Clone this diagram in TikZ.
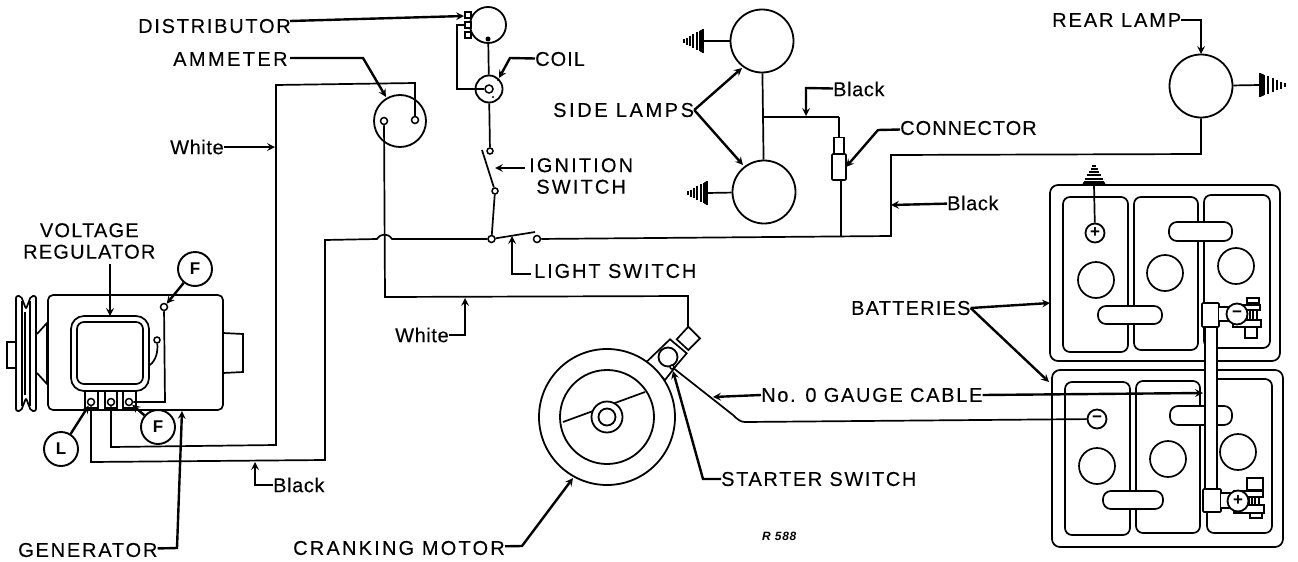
\documentclass[tikz,border=0pt]{standalone}
\usepackage{fontspec}
\usepackage{tikz}
\setmainfont{Liberation Sans}
\usetikzlibrary{arrows}

\tikzset{
    wire/.style={line width=1.7pt},
    ptr/.style={line width=2.4pt, ->, >=stealth},
    caplabel/.style={anchor=west, inner sep=0pt, align=center, font=\fontsize{20}{21.5}\selectfont\addfontfeature{LetterSpace=#1,FakeBold=0.2}},
    wordlabel/.style={anchor=west, inner sep=0pt, font=\fontsize{20}{22}\selectfont\addfontfeature{LetterSpace=3,FakeBold=0.2}},
    term/.style={circle, draw, fill=white, line width=1.5pt, inner sep=0pt, minimum size=7pt},
    lamp/.style={circle, draw, fill=white, line width=1.8pt, inner sep=0pt},
    tag/.style={circle, draw, fill=white, line width=1.9pt, inner sep=0pt, minimum size=34pt, font=\bfseries\fontsize{17}{17}\selectfont},
    post/.style={circle, draw, fill=white, line width=1.8pt, inner sep=0pt, minimum size=19pt, font=\bfseries\fontsize{17}{17}\selectfont},
    part/.style={draw, fill=white, line width=1.7pt},
    gndsym/.pic={
        \foreach \i in {0,...,6}
            \draw[line width=2pt] ({-\i*#1},{-12+\i*1.7}) -- ({-\i*#1},{12-\i*1.7});
        \fill ({-#1},-10.3) -- (0,-12) -- (0,12) -- ({-#1},10.3) -- cycle;
    }
}

\begin{document}
\begin{tikzpicture}[x=1pt,y=-1pt]
    \useasboundingbox (0,0) rectangle (1298,562);

    % generator
    \draw[part] (7,342) rectangle (17,368);
    \draw[part, rounded corners=2pt] (16,296) -- (21,296) -- (26,309) -- (31,296) -- (36,296) -- (36,411) -- (31,411) -- (26,398) -- (21,411) -- (16,411) -- cycle;
    \draw[line width=2.4pt] (22,301) -- (22,406);
    \draw[line width=1.2pt] (25,312) -- (25,395);
    \draw[line width=1.6pt] (30,301) -- (30,406);
    \draw[part] (37,334) -- (47,323) -- (47,384) -- (37,373);
    \draw[part] (223,333) -- (243,334) -- (243,372) -- (223,373) -- cycle;
    \draw[part, rounded corners=5pt] (48,295) rectangle (223,410);
    \draw[part, rounded corners=13pt] (71,316) rectangle (149,391);
    \draw[part, rounded corners=7pt] (77,322) rectangle (143,384);
    \foreach \x/\y in {85/98,105/117,123/136}
        \draw[part] (\x,391) rectangle (\y,408);

    \node[term] (gL) at (91,402) {};
    \node[term] (gA) at (111,402) {};
    \node[term] (gF) at (129,402) {};
    \node[term] (fieldtop) at (164,307) {};
    \node[term, minimum size=6pt] (loopend) at (157,340) {};
    \coordinate (loopbase) at (150,365);
    \coordinate (gFup) at (165,402);
    \draw[wire] (loopend) .. controls (158,352) and (156,360) .. (loopbase);
    \draw[wire] (gF) -- (gFup) -- (fieldtop);

    % ammeter and distributor
    \node[lamp, minimum size=52pt] (ammeter) at (400,121) {};
    \node[term] (amL) at (384,121) {};
    \node[term] (amR) at (415,120) {};
    \node[lamp, minimum size=36pt] (dist) at (488,25) {};
    \foreach \y/\n in {15/a,25/b,35/c}
        \draw[part] (465,\y-3) rectangle (471,\y+3) coordinate (tab\n);
    \node[lamp, minimum size=27pt] (coil) at (489,89) {};
    \node[term, minimum size=8pt] (coilin) at (489,89) {};
    \fill (498,80) circle (1.2pt);
    \fill (493,97) circle (1.2pt);
    \fill (488,39) circle (2.5pt);
    \coordinate (distfeed) at (466,25);
    \coordinate (distfeedL) at (457,25);
    \coordinate (distfeedB) at (457,89);
    \draw[wire] (distfeed) -- (distfeedL) -- (distfeedB) -- (coilin);
    \draw[wire] (dist) -- (coil);

    % switches
    \node[term, minimum size=6pt] (ignA) at (490,151) {};
    \node[term, minimum size=6pt] (ignB) at (495,191) {};
    \node[term] (lightA) at (491.5,239) {};
    \node[term] (lightB) at (537,239) {};
    \coordinate (ignblade) at (482,150);
    \coordinate (lightblade) at (535,232);
    \draw[wire] (coil) -- (ignA);
    \draw[wire] (ignblade) -- (ignB);
    \draw[wire] (ignB) -- (lightA);
    \draw[wire] (lightA) -- (lightblade);

    % side and rear lamps
    \node[lamp, minimum size=63pt] (lampA) at (762,41) {};
    \node[lamp, minimum size=63pt] (lampB) at (764,192) {};
    \node[lamp, minimum size=63pt] (rear) at (1201,86) {};
    \coordinate (gndA) at (703,41);
    \coordinate (gndB) at (707,193);
    \coordinate (gndR) at (1260,85);
    \draw[wire] (lampA) -- (gndA);
    \draw[wire] (lampB) -- (gndB);
    \draw[wire] (rear) -- (gndR);
    \pic at (gndA) {gndsym=3.2};
    \pic at (gndB) {gndsym=3.2};
    \pic[rotate=180] at (gndR) {gndsym=4.2};
    \coordinate (tee) at (762,117);
    \coordinate (teeR) at (839,117);
    \draw[wire] (lampA) -- (lampB);
    \draw[wire] (tee) -- (teeR);
    \node[part, inner sep=0pt, minimum width=10pt, minimum height=17pt] (plugtop) at (839,146) {};
    \node[part, inner sep=0pt, minimum width=14pt, minimum height=26pt, rounded corners=1pt] (plug) at (839,167) {};
    \coordinate (plugB) at (841,236);
    \draw[wire] (teeR) -- (plugtop);
    \draw[wire] (plug.south -| plugB) -- (plugB);

    % main wires
    \coordinate (jumpR) at (392,239);
    \coordinate (jumpL) at (377,239);
    \coordinate (blackA) at (325,240);
    \coordinate (blackB) at (325,460);
    \coordinate (blackC) at (91,462);
    \draw[wire] (lightA) -- (jumpR) .. controls (388,233) and (381,233) .. (jumpL) -- (blackA) -- (blackB) -- (blackC) -- (gL);
    \coordinate (whiteA) at (276,85);
    \coordinate (whiteB) at (276,445);
    \coordinate (whiteC) at (111,447);
    \coordinate (whiteD) at (415,83);
    \draw[wire] (gA) -- (whiteC) -- (whiteB) -- (whiteA) -- (whiteD) -- (amR);
    \coordinate (motorA) at (385,297);
    \coordinate (motorB) at (688,296);
    \coordinate (motorC) at (688,327);
    \draw[wire] (amL) -- (motorA) -- (motorB) -- (motorC);
    \coordinate (mainA) at (891,236);
    \coordinate (mainB) at (891,155);
    \coordinate (mainC) at (1201,154);
    \draw[wire] (lightB) -- (mainA) -- (mainB) -- (mainC) -- (rear);

    % cranking motor
    \draw[part] (646.7,361.7) -- (670,339.3) -- (686.7,353.3) -- (676.7,365) -- (665,380) -- cycle;
    \draw[part] (676.7,339.3) -- (688.3,326.7) -- (700,338.3) -- (688.3,350) -- cycle;
    \node[lamp, minimum size=136pt] (motor) at (607,417) {};
    \node[lamp, minimum size=94pt] (motorin) at (607,417) {};
    \draw[wire] (563,422) -- (645,392);
    \node[lamp, minimum size=31pt] (hubA) at (607,417) {};
    \node[lamp, minimum size=17pt] (hubB) at (607,417) {};
    \node[lamp, minimum size=19pt] (solenoid) at (668,357) {};
    \node[term, minimum size=4pt] (solterm) at (672,367) {};

    % batteries
    \draw[part, rounded corners=8pt] (1050,185) rectangle (1280,361);
    \draw[part, rounded corners=8pt] (1052,370) rectangle (1283,547);
    \foreach \a/\b/\c/\d in {1063/197/1128/352,1134/197/1198/350,1204/195/1270/348,1065/382/1130/535,1136/381/1200/533,1207/379/1272/533}
        \draw[part, rounded corners=7pt] (\a,\b) rectangle (\c,\d);
    \foreach \x/\y in {1096/280,1165/273,1236/266,1097/466,1168/459,1238/452}
        \draw[part] (\x,\y) circle (18);
    \foreach \a/\b/\c/\d in {1169/222/1232/241,1098/306/1162/324,1170/406/1232/425,1103/491/1163/509}
        \draw[part, rounded corners=8pt] (\a,\b) rectangle (\c,\d);
    \draw[part] (1205,325) rectangle (1217,492);
    \draw[part, rounded corners=1pt] (1202,303) rectangle (1219,327);
    \draw[part, rounded corners=1pt] (1203,489) rectangle (1221,512);
    \draw[part] (1219,307) -- (1229,307) -- (1229,321) -- (1219,321);
    \draw[part] (1221,493) -- (1231,493) -- (1231,508) -- (1221,508);
    \draw[part] (1247,298) rectangle (1259,303);
    \draw[part] (1245,327) rectangle (1257,338);
    \draw[part] (1247,309) rectangle (1250,320);
    \draw[part] (1253,309) rectangle (1257,320);
    \draw[part] (1233,305) rectangle (1260,310);
    \draw[part] (1233,320) rectangle (1261,327);
    \draw[part] (1247,478) rectangle (1263,490);
    \draw[part] (1250,513) rectangle (1262,518);
    \draw[part] (1249,497) rectangle (1252,505);
    \draw[part] (1255,497) rectangle (1259,505);
    \draw[part] (1234,491) rectangle (1263,497);
    \draw[part] (1234,505) rectangle (1264,513);
    \node[post, minimum size=21pt] (clampA) at (1237,314) {\textminus};
    \node[post, minimum size=21pt] (clampB) at (1238,501) {+};
    \node[post] (plus) at (1095,233) {+};
    \node[post] (minus) at (1097,419) {\textminus};
    \coordinate (battgnd) at (1094,185);
    \draw[wire] (plus) -- (battgnd);
    \pic[rotate=-90] at (battgnd) {gndsym=3.2};
    \coordinate (cableA) at (733,415);
    \coordinate (cableB) at (745,422);
    \draw[wire] (solterm) -- (cableA) .. controls (738,420) and (741,422) .. (cableB) -- (minus);

    % tags
    \node[tag] (tagFa) at (195,269) {F};
    \node[tag] (tagFb) at (158,427) {F};
    \node[tag] (tagL) at (61,449) {L};
    \draw[ptr] (tagFa) -- (fieldtop);
    \draw[ptr] (tagFb) -- (gF);
    \draw[ptr] (tagL) -- (gL);

    % labels
    \node[caplabel=8.7] (ldist) at (138,26) {DISTRIBUTOR};
    \node[caplabel=12] (lamm) at (173,59) {AMMETER};
    \node[caplabel=5] (lcoil) at (535,59) {COIL};
    \node[caplabel=10.7] (lign) at (529,176) {IGNITION\\SWITCH};
    \node[caplabel=13] (lside) at (553,110) {SIDE LAMPS};
    \node[caplabel=5] (lconn) at (900,128) {CONNECTOR};
    \node[caplabel=9.6] (lrear) at (1052,20) {REAR LAMP};
    \node[caplabel=6] (lvolt) at (23,241) {VOLTAGE\\REGULATOR};
    \node[caplabel=9.4] (llight) at (534,271) {LIGHT SWITCH};
    \node[caplabel=6] (lbatt) at (851,308) {BATTERIES};
    \node[caplabel=8.5] (lcable) at (761,395) {No. 0 GAUGE CABLE};
    \node[caplabel=8] (lstart) at (721,479) {STARTER SWITCH};
    \node[caplabel=9] (lgen) at (18,550) {GENERATOR};
    \node[caplabel=11] (lcrank) at (293,548) {CRANKING MOTOR};
    \node[wordlabel] (lwhiteA) at (170,147) {White};
    \node[wordlabel] (lwhiteB) at (395,335) {White};
    \node[wordlabel] (lblackA) at (273,485) {Black};
    \node[wordlabel] (lblackB) at (833,89) {Black};
    \node[wordlabel] (lblackC) at (947,203) {Black};
    \node[anchor=west, inner sep=0pt, font=\bfseries\itshape\fontsize{12}{12}\selectfont\addfontfeature{LetterSpace=6}] (lref) at (762,536) {R 588};

    % pointers
    \coordinate (pdistS) at (290,21);
    \coordinate (pdist) at (464,16);
    \draw[ptr] (pdistS) -- (pdist);
    \coordinate (pammS) at (290,58);
    \coordinate (pammA) at (363,58);
    \coordinate (pamm) at (386,97);
    \draw[ptr] (pammS) -- (pammA) -- (pamm);
    \coordinate (pcoilA) at (510,58);
    \coordinate (pcoil) at (499,78);
    \draw[ptr] (lcoil) -- (pcoilA) -- (pcoil);
    \coordinate (pign) at (495,168);
    \coordinate (pignS) at (525,168);
    \draw[ptr] (pignS) -- (pign);
    \coordinate (plightS) at (531,274);
    \coordinate (plightA) at (512,274);
    \coordinate (plight) at (512,236);
    \draw[ptr] (plightS) -- (plightA) -- (plight);
    \coordinate (psideA) at (742,68);
    \coordinate (psideB) at (743,165);
    \draw[ptr] (lside.east) -- (psideA);
    \draw[ptr] (lside.east) -- (psideB);
    \coordinate (pblackA) at (806,88);
    \coordinate (pblack) at (806,116);
    \draw[ptr] (lblackB) -- (pblackA) -- (pblack);
    \coordinate (pconnA) at (878,130);
    \coordinate (pconn) at (846,167);
    \draw[ptr] (lconn) -- (pconnA) -- (pconn);
    \coordinate (pblackC) at (891,205);
    \draw[ptr] (lblackC) -- (pblackC);
    \coordinate (prearA) at (1201,20);
    \coordinate (prear) at (1201,54);
    \draw[ptr] (lrear) -- (prearA) -- (prear);
    \coordinate (pwhite) at (275,147);
    \draw[ptr] (lwhiteA) -- (pwhite);
    \coordinate (pwhiteBA) at (465,335);
    \coordinate (pwhiteB) at (465,298);
    \draw[ptr] (lwhiteB) -- (pwhiteBA) -- (pwhiteB);
    \coordinate (pblackBA) at (255,485);
    \coordinate (pblackB) at (255,462);
    \draw[ptr] (lblackA) -- (pblackBA) -- (pblackB);
    \coordinate (pvolt) at (110,316);
    \coordinate (pvoltS) at (110,264);
    \draw[ptr] (pvoltS) -- (pvolt);
    \coordinate (pgenA) at (177,548);
    \coordinate (pgen) at (182,411);
    \draw[ptr] (lgen) -- (pgenA) -- (pgen);
    \coordinate (pcrankA) at (522,546);
    \coordinate (pcrank) at (573,478);
    \draw[ptr] (lcrank) -- (pcrankA) -- (pcrank);
    \coordinate (pstartA) at (703,479);
    \coordinate (pstart) at (673,371);
    \draw[ptr] (lstart) -- (pstartA) -- (pstart);
    \coordinate (pcableL) at (713,397);
    \coordinate (pcableR) at (1203,393);
    \draw[ptr] (lcable.west) -- (pcableL);
    \draw[ptr] (lcable.east) -- (pcableR);
    \coordinate (pbattA) at (1050,303);
    \coordinate (pbattB) at (1049,382);
    \draw[ptr] (lbatt.east) -- (pbattA);
    \draw[ptr] (lbatt.east) -- (pbattB);
\end{tikzpicture}
\end{document}
